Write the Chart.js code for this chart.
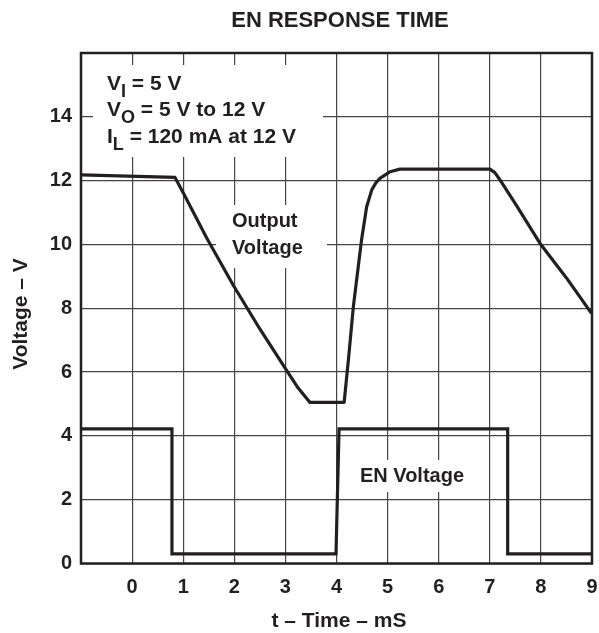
<!DOCTYPE html>
<html><head><meta charset="utf-8">
<script src="https://cdn.jsdelivr.net/npm/chart.js@4"></script>
<style>html,body{margin:0;padding:0;background:#fff}</style>
</head><body>
<canvas id="c" width="599" height="633"></canvas>
<script>
// ---- data ----
const outputTime = [-1, 0.84, 1.0, 1.46, 1.98, 2.5, 3.02, 3.25, 3.48, 4.15, 4.24, 4.33, 4.49, 4.59, 4.69, 4.77, 4.85, 5.05, 5.24, 7.0, 7.1, 7.2, 7.53, 7.98, 8.5, 8.99];
const outputVolt = [12.18, 12.1, 11.62, 10.2, 8.72, 7.35, 6.06, 5.5, 5.05, 5.05, 6.5, 8.05, 10.14, 11.18, 11.71, 11.93, 12.07, 12.28, 12.36, 12.36, 12.25, 12.02, 11.2, 10.04, 8.95, 7.84];
const enTime = [-1, 0.78, 0.78, 3.99, 4.05, 7.35, 7.35, 9];
const enVolt = [4.22, 4.22, 0.3, 0.3, 4.22, 4.22, 0.3, 0.3];
const xMin = -1, xMax = 9, xStep = 1;
const yMin = 0, yMax = 16, yStep = 2;
const hiddenXTicks = [-1];
const hiddenYTicks = [16];
const titleText = 'EN RESPONSE TIME';
const xTitle = 't \u2013 Time \u2013 mS';
const yTitle = 'Voltage \u2013 V';

const FONT = '"Liberation Sans", Arial, sans-serif';
const INK = '#231f20';

function pts(xs, ys){ return xs.map((x,i)=>({x, y: ys[i]})); }

const decor = {
  id: 'decor',
  beforeDatasetsDraw(chart){
    const ctx = chart.ctx;
    ctx.save();
    ctx.fillStyle = '#fff';
    // label backgrounds that break the grid lines
    ctx.fillRect(93, 65, 230, 92);
    ctx.fillRect(216, 205, 111, 63);
    ctx.fillRect(350, 460, 122, 32);
    ctx.restore();
  },
  afterDraw(chart){
    const ctx = chart.ctx, a = chart.chartArea;
    ctx.save();
    ctx.strokeStyle = INK;
    ctx.lineWidth = 2.5;
    ctx.strokeRect(a.left, a.top, a.right - a.left, a.bottom - a.top);
    ctx.fillStyle = INK;
    // title
    ctx.font = 'bold 22px ' + FONT;
    ctx.textAlign = 'center'; ctx.textBaseline = 'alphabetic';
    ctx.fillText(titleText, 340, 27);
    // axis titles
    ctx.font = 'bold 21px ' + FONT;
    ctx.fillText(xTitle, 339, 627);
    ctx.save();
    ctx.translate(26.5, 314);
    ctx.rotate(-Math.PI/2);
    ctx.fillText(yTitle, 0, 0);
    ctx.restore();
    // condition annotations with subscripts
    ctx.textAlign = 'left';
    const lines = [
      [['V',0],['I',1],[' = 5 V',0]],
      [['V',0],['O',1],[' = 5 V to 12 V',0]],
      [['I',0],['L',1],[' = 120 mA at 12 V',0]]
    ];
    const base = [90, 116, 143];
    lines.forEach((ln, i) => {
      let x = 107;
      ln.forEach(([t, sub]) => {
        ctx.font = (sub ? 'bold 18px ' : 'bold 21px ') + FONT;
        ctx.fillText(t, x, base[i] + (sub ? 7 : 0));
        x += ctx.measureText(t).width;
      });
    });
    ctx.font = 'bold 20px ' + FONT;
    ctx.fillText('Output', 232, 227);
    ctx.fillText('Voltage', 232, 254);
    ctx.textAlign = 'center';
    ctx.fillText('EN Voltage', 412, 482);
    ctx.restore();
  }
};

new Chart(document.getElementById('c'), {
  type: 'scatter',
  data: {
    datasets: [
      { data: pts(outputTime, outputVolt), showLine: true, borderColor: INK, borderWidth: 3.2, pointRadius: 0, tension: 0, borderJoinStyle: 'round' },
      { data: pts(enTime, enVolt), showLine: true, borderColor: INK, borderWidth: 3.2, pointRadius: 0, tension: 0 }
    ]
  },
  options: {
    responsive: false,
    animation: false,
    devicePixelRatio: 1,
    layout: { padding: { left: 0, right: 7, top: 53, bottom: 0 } },
    plugins: { legend: { display: false }, tooltip: { enabled: false }, title: { display: false } },
    scales: {
      x: {
        type: 'linear', min: xMin, max: xMax,
        afterFit: s => { s.height = 69.5; s.paddingLeft = 0; s.paddingRight = 0; },
        ticks: { stepSize: xStep, color: INK, font: { family: FONT, size: 20, weight: 'bold' }, padding: 12, maxRotation: 0,
          callback: v => hiddenXTicks.includes(v) ? '' : String(v) },
        grid: { color: '#444', lineWidth: 1.2, drawTicks: false },
        border: { display: false }
      },
      y: {
        type: 'linear', min: yMin, max: yMax,
        afterFit: s => { s.width = 81; s.paddingTop = 0; s.paddingBottom = 0; },
        ticks: { stepSize: yStep, color: INK, font: { family: FONT, size: 20, weight: 'bold' }, padding: 9,
          callback: v => hiddenYTicks.includes(v) ? '' : String(v) },
        grid: { color: '#444', lineWidth: 1.2, drawTicks: false },
        border: { display: false }
      }
    }
  },
  plugins: [decor]
});
</script>
</body></html>
